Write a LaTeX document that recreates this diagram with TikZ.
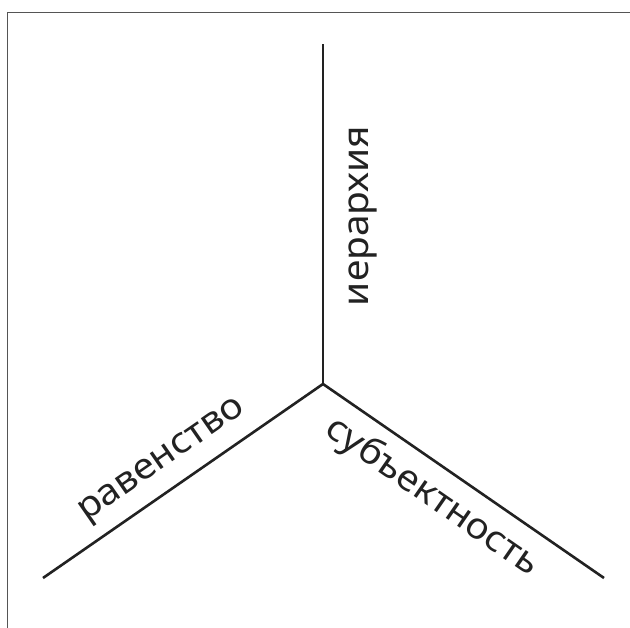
\documentclass[tikz,border=0pt]{standalone}
\usepackage{fontspec}
\setmainfont{Noto Sans}[FakeStretch=1.08]
\definecolor{ink}{HTML}{222222}
\definecolor{frame}{HTML}{555555}
\tikzset{
  axis/.style={draw=ink, line width=2.6pt, line cap=butt},
  lbl/.style={text=ink, font=\fontsize{36}{40}\selectfont, inner sep=0pt},
  framel/.style={draw=frame, line width=1pt}
}
\begin{document}
\begin{tikzpicture}[x=1pt,y=1pt]
\useasboundingbox (0,0) rectangle (630,-628);
\fill[white] (0,0) rectangle (630,-628);
% frame (only top and left visible)
\coordinate (ftr) at (630,-13);
\coordinate (ftl) at (7,-13);
\coordinate (fbl) at (7,-628);
\draw[framel] (ftr) -- (ftl) -- (fbl);
% axes
\coordinate (c) at (323,-384);
\coordinate (top) at (323,-44);
\coordinate (left) at (43,-578);
\coordinate (right) at (604,-578);
\draw[axis] (c) -- (top);
\draw[axis] (c) -- (left);
\draw[axis] (c) -- (right);
% labels
\node[lbl, rotate=90] (hier) at (363,-216) {иерархия};
\node[lbl, rotate=34.7] (equal) at (163,-462) {равенство};
\node[lbl, rotate=-34.7] (subj) at (432,-497) {субъектность};
\end{tikzpicture}
\end{document}
